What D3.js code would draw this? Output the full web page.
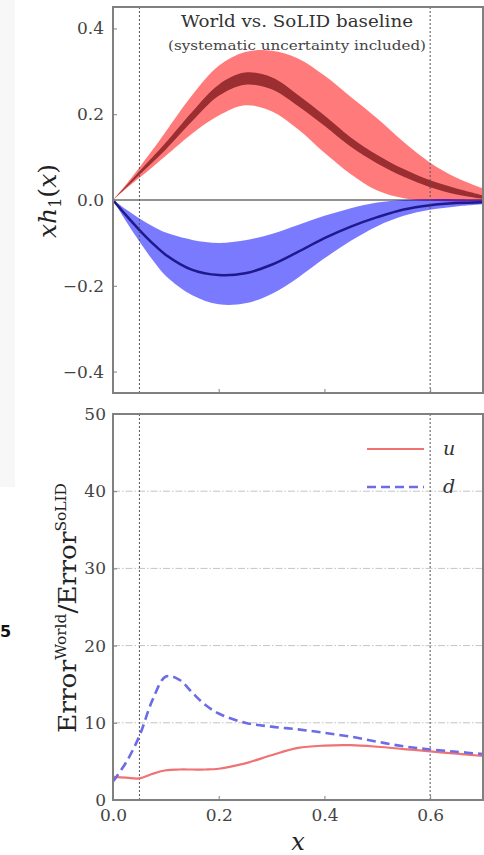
<!DOCTYPE html>
<html>
<head>
<meta charset="utf-8">
<script src="https://cdn.jsdelivr.net/npm/d3@7"></script>
<style>
  html, body { margin: 0; padding: 0; background: #fff; }
  svg { display: block; }
</style>
</head>
<body>
<svg id="chart" width="484" height="855"></svg>
<script>
// ---------- data ----------
const xs       = [0, 0.025, 0.05, 0.075, 0.1, 0.15, 0.2, 0.25, 0.3, 0.35, 0.4, 0.45, 0.5, 0.55, 0.6, 0.65, 0.7];
const uUpper   = [0, 0.037, 0.076, 0.117, 0.16, 0.245, 0.313, 0.345, 0.348, 0.33, 0.29, 0.24, 0.19, 0.135, 0.087, 0.052, 0.027];
const uLower   = [0, 0.027, 0.052, 0.077, 0.103, 0.155, 0.197, 0.221, 0.207, 0.165, 0.11, 0.06, 0.022, 0.004, -0.002, -0.004, -0.003];
const uInnerLo = [0, 0.029, 0.059, 0.088, 0.118, 0.184, 0.243, 0.269, 0.258, 0.219, 0.173, 0.124, 0.085, 0.054, 0.030, 0.013, 0.003];
const uInnerHi = [0, 0.033, 0.067, 0.100, 0.134, 0.206, 0.269, 0.297, 0.286, 0.245, 0.197, 0.146, 0.105, 0.072, 0.046, 0.027, 0.011];
const dUpper   = [0, -0.022, -0.043, -0.061, -0.076, -0.093, -0.100, -0.094, -0.079, -0.058, -0.037, -0.019, -0.006, 0, 0.002, 0.002, 0.001];
const dCenter  = [0, -0.036, -0.070, -0.101, -0.128, -0.163, -0.175, -0.171, -0.151, -0.121, -0.089, -0.062, -0.040, -0.022, -0.012, -0.007, -0.005];
const dLower   = [0, -0.05, -0.097, -0.140, -0.177, -0.222, -0.243, -0.241, -0.219, -0.181, -0.136, -0.095, -0.061, -0.037, -0.023, -0.015, -0.010];

const ratioX = [0, 0.025, 0.05, 0.075, 0.1, 0.125, 0.15, 0.175, 0.2, 0.25, 0.3, 0.35, 0.4, 0.45, 0.5, 0.55, 0.6, 0.65, 0.7];
const uRatio = [3.0, 2.9, 2.8, 3.4, 3.85, 3.95, 3.95, 3.95, 4.05, 4.75, 5.8, 6.75, 7.05, 7.1, 6.9, 6.6, 6.3, 6.0, 5.7];
const dRatio = [2.4, 4.9, 8.3, 13.0, 16.0, 15.6, 13.9, 12.3, 11.2, 10.0, 9.5, 9.15, 8.7, 8.2, 7.55, 6.95, 6.55, 6.25, 5.95];

const cutLines    = [0.05, 0.6];
const xTicks      = [0.0, 0.2, 0.4, 0.6];
const topYTicks   = [-0.4, -0.2, 0.0, 0.2, 0.4];
const botYTicks   = [0, 10, 20, 30, 40, 50];
const gridY       = [10, 20, 30, 40];
const legendNames = ["u", "d"];

// ---------- layout ----------
const svg = d3.select("#chart");
const serif = "'DejaVu Serif', 'Liberation Serif', serif";
const L = 113, R = 483;
const x = d3.scaleLinear().domain([0, 0.7]).range([L, R]);
const yTop = d3.scaleLinear().domain([-0.45, 0.45]).range([393, 7]);
const yBot = d3.scaleLinear().domain([0, 50]).range([800, 414]);

// faint background box at left edge
svg.append("rect").attr("x", 0).attr("y", 0).attr("width", 15).attr("height", 487).attr("fill", "#f7f7f7");

// stray label
svg.append("text").attr("x", 0).attr("y", 637).attr("font-family", "'DejaVu Sans', sans-serif")
  .attr("font-weight", "bold").attr("font-size", 16).attr("fill", "#111").text("5");

const curve = d3.curveCatmullRom.alpha(0.5);

// ===== top panel =====
const topG = svg.append("g");
svg.append("defs").append("clipPath").attr("id", "clipTop")
  .append("rect").attr("x", L).attr("y", 7).attr("width", R - L).attr("height", 386);
const topPlot = topG.append("g").attr("clip-path", "url(#clipTop)");

// zero line
topPlot.append("line").attr("x1", L).attr("x2", R).attr("y1", yTop(0)).attr("y2", yTop(0))
  .attr("stroke", "#6e6e6e").attr("stroke-width", 1.5);

const band = (lo, hi) => d3.area().curve(curve)
  .x((d, i) => x(xs[i])).y0((d, i) => yTop(lo[i])).y1((d, i) => yTop(hi[i]));

topPlot.append("path").datum(xs).attr("d", band(uLower, uUpper)).attr("fill", "rgba(255,0,0,0.52)");
topPlot.append("path").datum(xs).attr("d", band(dLower, dUpper)).attr("fill", "rgba(0,0,255,0.52)");
topPlot.append("path").datum(xs).attr("d", band(uInnerLo, uInnerHi)).attr("fill", "#9a2e30");
topPlot.append("path").datum(xs)
  .attr("d", d3.line().curve(curve).x((d, i) => x(xs[i])).y((d, i) => yTop(dCenter[i])))
  .attr("fill", "none").attr("stroke", "#1f1a8c").attr("stroke-width", 2.5);

// cut lines
topPlot.selectAll(".cut").data(cutLines).enter().append("line")
  .attr("x1", d => x(d)).attr("x2", d => x(d)).attr("y1", 7).attr("y2", 393)
  .attr("stroke", "#555").attr("stroke-width", 1).attr("stroke-dasharray", "2,2");

// frame
topG.append("rect").attr("x", L).attr("y", 7).attr("width", R - L).attr("height", 386)
  .attr("fill", "none").attr("stroke", "#808080").attr("stroke-width", 2);

// y ticks + labels
topG.append("g").attr("transform", `translate(${L},0)`)
  .call(d3.axisLeft(yTop).tickValues(topYTicks).tickSizeInner(-4).tickSizeOuter(0).tickPadding(9)
    .tickFormat(d => d.toFixed(1).replace("-", "\u2212")))
  .call(g => g.select(".domain").remove())
  .call(g => g.selectAll("line").attr("stroke", "#808080").attr("stroke-width", 1))
  .call(g => g.selectAll("text").attr("font-family", serif).attr("font-size", 17).attr("fill", "#444"));
// x ticks (no labels)
topG.append("g").attr("transform", `translate(0,393)`)
  .call(d3.axisBottom(x).tickValues(xTicks).tickSizeInner(-4).tickSizeOuter(0).tickFormat(""))
  .call(g => g.select(".domain").remove())
  .call(g => g.selectAll("line").attr("stroke", "#808080"));

// title
topG.append("text").attr("x", 297).attr("y", 27).attr("text-anchor", "middle")
  .attr("font-family", serif).attr("font-size", 16).attr("fill", "#333")
  .attr("textLength", 232).attr("lengthAdjust", "spacingAndGlyphs").text("World vs. SoLID baseline");
topG.append("text").attr("x", 297).attr("y", 50).attr("text-anchor", "middle")
  .attr("font-family", serif).attr("font-size", 13).attr("fill", "#444")
  .attr("textLength", 258).attr("lengthAdjust", "spacingAndGlyphs").text("(systematic uncertainty included)");

// y label top
const yl1 = svg.append("text").attr("transform", "translate(56,201) rotate(-90)")
  .attr("text-anchor", "middle").attr("font-family", serif).attr("font-size", 25).attr("fill", "#222");
yl1.append("tspan").attr("font-style", "italic").text("xh");
yl1.append("tspan").attr("font-size", 16).attr("dy", 5).text("1");
yl1.append("tspan").attr("dy", -5).text("(");
yl1.append("tspan").attr("font-style", "italic").text("x");
yl1.append("tspan").text(")");

// ===== bottom panel =====
const botG = svg.append("g");
svg.append("defs").append("clipPath").attr("id", "clipBot")
  .append("rect").attr("x", L).attr("y", 414).attr("width", R - L).attr("height", 386);
const botPlot = botG.append("g").attr("clip-path", "url(#clipBot)");

botPlot.selectAll(".grid").data(gridY).enter().append("line")
  .attr("x1", L).attr("x2", R).attr("y1", d => yBot(d)).attr("y2", d => yBot(d))
  .attr("stroke", "#c4c4c4").attr("stroke-width", 1).attr("stroke-dasharray", "7,2,1.5,2");

botPlot.selectAll(".cut").data(cutLines).enter().append("line")
  .attr("x1", d => x(d)).attr("x2", d => x(d)).attr("y1", 414).attr("y2", 800)
  .attr("stroke", "#555").attr("stroke-width", 1).attr("stroke-dasharray", "2,2");

const rline = arr => d3.line().curve(curve).x((d, i) => x(ratioX[i])).y((d, i) => yBot(arr[i]));
botPlot.append("path").datum(ratioX).attr("d", rline(uRatio))
  .attr("fill", "none").attr("stroke", "#f07272").attr("stroke-width", 2.2);
botPlot.append("path").datum(ratioX).attr("d", rline(dRatio))
  .attr("fill", "none").attr("stroke", "#6c6ce6").attr("stroke-width", 2.6).attr("stroke-dasharray", "9,5");

botG.append("rect").attr("x", L).attr("y", 414).attr("width", R - L).attr("height", 386)
  .attr("fill", "none").attr("stroke", "#808080").attr("stroke-width", 2);

botG.append("g").attr("transform", `translate(${L},0)`)
  .call(d3.axisLeft(yBot).tickValues(botYTicks).tickSizeInner(-4).tickSizeOuter(0).tickPadding(7)
    .tickFormat(d3.format("d")))
  .call(g => g.select(".domain").remove())
  .call(g => g.selectAll("line").attr("stroke", "#808080"))
  .call(g => g.selectAll("text").attr("font-family", serif).attr("font-size", 17).attr("fill", "#444"));
botG.append("g").attr("transform", `translate(0,800)`)
  .call(d3.axisBottom(x).tickValues(xTicks).tickSizeInner(-4).tickSizeOuter(0).tickPadding(9)
    .tickFormat(d3.format(".1f")))
  .call(g => g.select(".domain").remove())
  .call(g => g.selectAll("line").attr("stroke", "#808080"))
  .call(g => g.selectAll("text").attr("font-family", serif).attr("font-size", 17).attr("fill", "#444"));

// legend
const legColors = ["#f07272", "#6c6ce6"];
const legDash = [null, "9,5"];
legendNames.forEach((n, i) => {
  const yy = 449 + i * 38;
  botG.append("line").attr("x1", 367).attr("x2", 424).attr("y1", yy).attr("y2", yy)
    .attr("stroke", legColors[i]).attr("stroke-width", i ? 2.6 : 2.2)
    .attr("stroke-dasharray", legDash[i]);
  botG.append("text").attr("x", 443).attr("y", yy + 6).attr("font-family", serif)
    .attr("font-style", "italic").attr("font-size", 19).attr("fill", "#333").text(n);
});

// bottom y label
const yl2 = svg.append("text").attr("transform", "translate(76,608) rotate(-90)")
  .attr("text-anchor", "middle").attr("font-family", serif).attr("font-size", 24).attr("fill", "#222")
  .attr("textLength", 250).attr("lengthAdjust", "spacingAndGlyphs");
yl2.append("tspan").text("Error");
yl2.append("tspan").attr("font-size", 14).attr("dy", -10).text("World");
yl2.append("tspan").attr("dy", 10).text("/Error");
yl2.append("tspan").attr("font-size", 14).attr("dy", -10).text("SoLID");

// x label
svg.append("text").attr("x", 298).attr("y", 850).attr("text-anchor", "middle")
  .attr("font-family", serif).attr("font-style", "italic").attr("font-size", 24).attr("fill", "#222").text("x");
</script>
</body>
</html>
